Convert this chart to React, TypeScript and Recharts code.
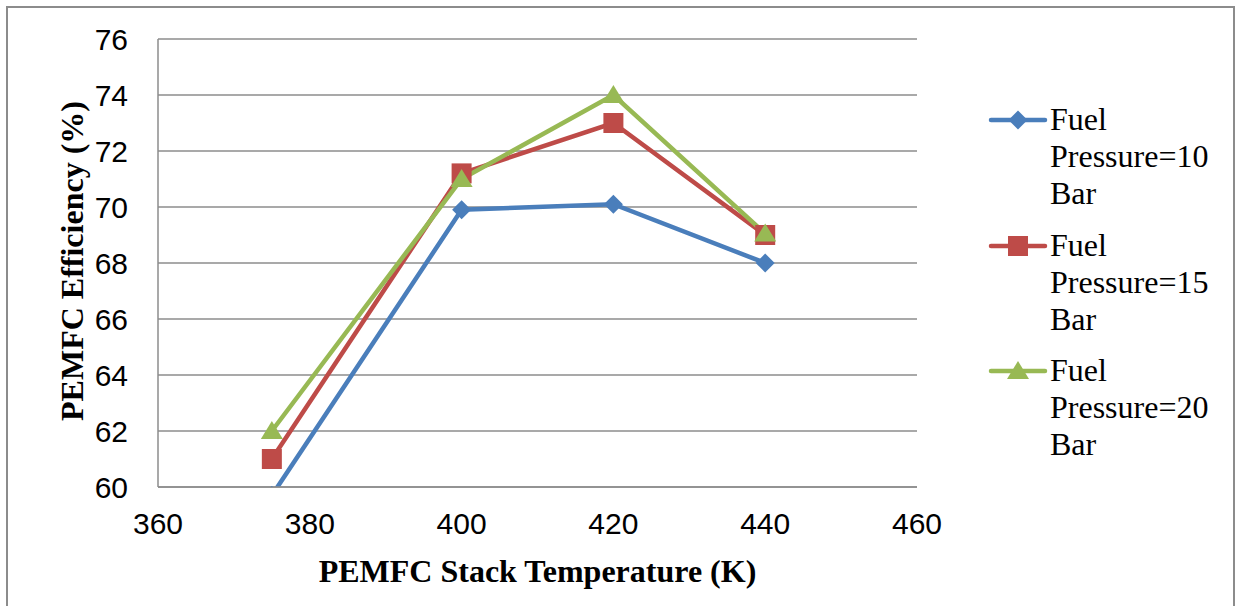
import React from 'react';
import { LineChart, Line, XAxis, YAxis, CartesianGrid, Label } from 'recharts';

const temperatures = [375, 400, 420, 440];
const pressure10 = [59.7, 69.9, 70.1, 68.0];
const pressure15 = [61.0, 71.2, 73.0, 69.0];
const pressure20 = [62.0, 71.0, 74.0, 69.05];
const xTicks = [360, 380, 400, 420, 440, 460];
const yTicks = [60, 62, 64, 66, 68, 70, 72, 74, 76];

const seriesNames = ['Fuel Pressure=10 Bar', 'Fuel Pressure=15 Bar', 'Fuel Pressure=20 Bar'];
const seriesColors = ['#4a7ebb', '#be4b48', '#98b954'];

const chartData = temperatures.map((t, i) => ({
  temp: t,
  p10: pressure10[i],
  p15: pressure15[i],
  p20: pressure20[i],
}));

// marker shapes, coloured from the line stroke
const Diamond = (props: any) => {
  const { cx, cy, stroke } = props;
  if (cx == null || cy == null) return null;
  const r = 9.5;
  return <path d={`M${cx},${cy - r}L${cx + r},${cy}L${cx},${cy + r}L${cx - r},${cy}Z`} fill={stroke} />;
};

const Square = (props: any) => {
  const { cx, cy, stroke } = props;
  if (cx == null || cy == null) return null;
  const r = 10;
  return <rect x={cx - r} y={cy - r} width={r * 2} height={r * 2} fill={stroke} />;
};

const Triangle = (props: any) => {
  const { cx, cy, stroke } = props;
  if (cx == null || cy == null) return null;
  return <path d={`M${cx},${cy - 10}L${cx + 11},${cy + 8}L${cx - 11},${cy + 8}Z`} fill={stroke} />;
};

const markers = [Diamond, Square, Triangle];

const serif = '"Liberation Serif", "Times New Roman", serif';
const sans = '"Liberation Sans", Arial, sans-serif';

const LegendMarker = ({ index }: { index: number }) => {
  const color = seriesColors[index];
  const Marker = markers[index];
  return (
    <svg width={60} height={24} style={{ position: 'absolute', left: 988, top: -12 }}>
      <line x1={3} y1={12} x2={57} y2={12} stroke={color} strokeWidth={4.5} strokeLinecap="round" />
      <Marker cx={30} cy={12} stroke={color} />
    </svg>
  );
};

export default function App() {
  return (
    <div style={{ position: 'absolute', left: 0, top: 0, width: 1241, height: 606, overflow: 'hidden', background: '#fff' }}>
      <div style={{ position: 'absolute', left: 6, top: 6, width: 1225, height: 640, border: '2px solid #8c8c8c' }} />
      <LineChart
        width={1241}
        height={606}
        data={chartData}
        margin={{ top: 39, right: 324, bottom: 0, left: 0 }}
        style={{ position: 'absolute', left: 0, top: 0 }}
      >
        <CartesianGrid vertical={false} stroke="#8c8c8c" strokeWidth={1.5} />
        <XAxis
          dataKey="temp"
          type="number"
          domain={[360, 460]}
          ticks={xTicks}
          height={119}
          tickSize={0}
          tickMargin={26}
          axisLine={{ stroke: '#8c8c8c', strokeWidth: 1.5 }}
          tick={{ fontSize: 30, fill: '#000', fontFamily: sans }}
        >
          <Label
            content={(p: any) => {
              const vb = p.viewBox;
              return (
                <text x={vb.x + vb.width / 2} y={582} textAnchor="middle" fontFamily={serif} fontWeight="bold" fontSize={32} fill="#000">
                  PEMFC Stack Temperature (K)
                </text>
              );
            }}
          />
        </XAxis>
        <YAxis
          type="number"
          domain={[60, 76]}
          ticks={yTicks}
          allowDataOverflow
          width={158}
          tickSize={0}
          tickMargin={30}
          axisLine={{ stroke: '#8c8c8c', strokeWidth: 1.5 }}
          tick={{ fontSize: 30, fill: '#000', fontFamily: sans }}
        >
          <Label
            content={() => (
              <text
                x={72}
                y={261}
                transform="rotate(-90, 72, 261)"
                textAnchor="middle"
                dominantBaseline="central"
                fontFamily={serif}
                fontWeight="bold"
                fontSize={32}
                fill="#000"
              >
                PEMFC Efficiency (%)
              </text>
            )}
          />
        </YAxis>
        <Line dataKey="p10" name={seriesNames[0]} stroke={seriesColors[0]} strokeWidth={4.5} dot={<Diamond />} activeDot={false} isAnimationActive={false} />
        <Line dataKey="p15" name={seriesNames[1]} stroke={seriesColors[1]} strokeWidth={4.5} dot={<Square />} activeDot={false} isAnimationActive={false} />
        <Line dataKey="p20" name={seriesNames[2]} stroke={seriesColors[2]} strokeWidth={4.5} dot={<Triangle />} activeDot={false} isAnimationActive={false} />
      </LineChart>
      {seriesNames.map((name, i) => {
        const words = name.split(' ');
        const top = 120 + i * 125.5;
        return (
          <div key={name} style={{ position: 'absolute', left: 0, top }}>
            <LegendMarker index={i} />
            <div
              style={{
                position: 'absolute',
                left: 1050,
                top: -19,
                fontFamily: serif,
                fontSize: 32,
                lineHeight: '37px',
                color: '#000',
                whiteSpace: 'nowrap',
              }}
            >
              {words.map((w) => (
                <div key={w}>{w}</div>
              ))}
            </div>
          </div>
        );
      })}
    </div>
  );
}
